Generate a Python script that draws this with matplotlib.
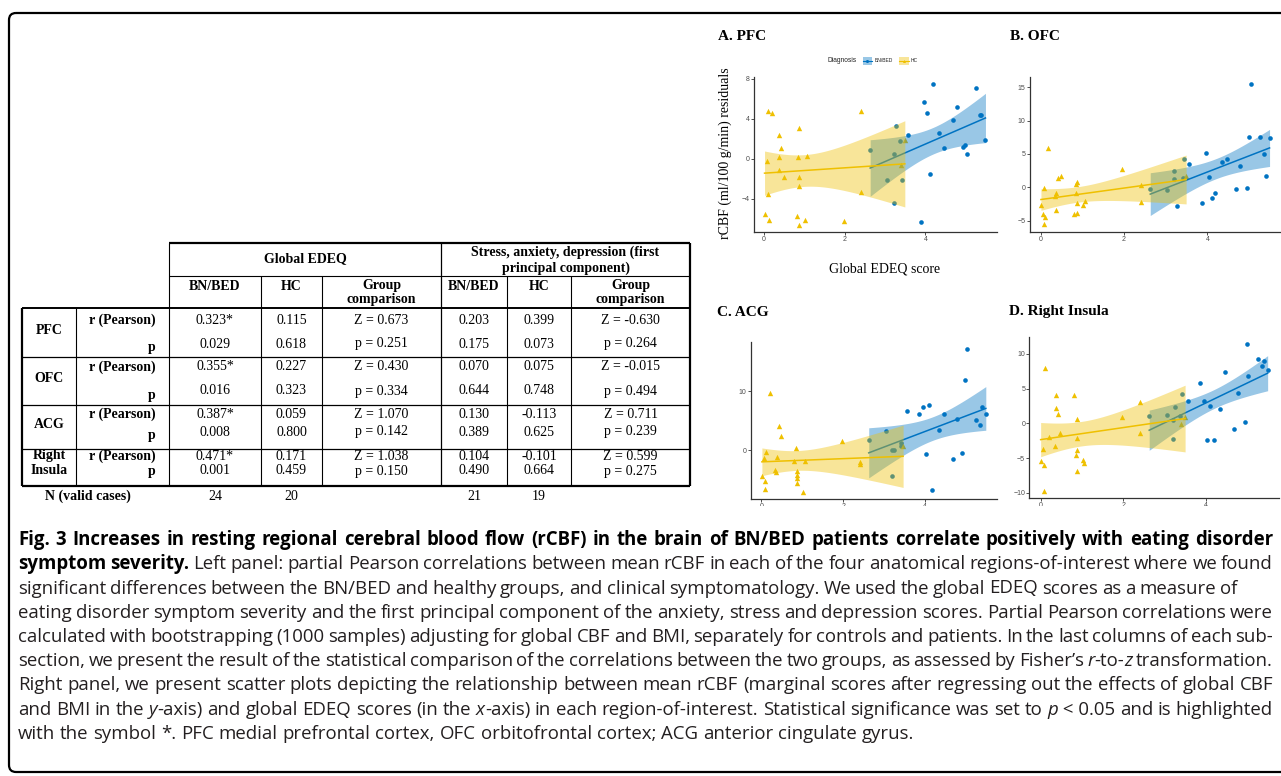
import numpy as np
import matplotlib
matplotlib.use("Agg")
import matplotlib.pyplot as plt
from matplotlib.patches import Rectangle, FancyBboxPatch
from matplotlib import font_manager

W, H = 1281, 776
BLUE = "#0073C2"
YELLOW = "#EFC000"

# ---- scatter data ----
A_bn_x = [4.18, 3.97, 4.03, 5.26, 4.78, 4.68, 5.35, 5.39, 5.49, 4.34, 4.46, 4.93, 4.99, 5.03, 4.11, 3.88, 3.56, 2.63, 3.26, 3.21, 3.37, 3.05, 3.43, 3.21]
A_bn_y = [7.48, 5.64, 4.53, 7.11, 5.2, 3.83, 4.4, 4.33, 1.91, 2.55, 1.07, 1.17, 1.38, 0.5, -1.54, -6.34, 2.38, 0.87, 3.32, 0.47, 1.78, -2.18, -2.18, -4.43]
A_hc_x = [0.09, 0.2, 0.37, 0.43, 0.36, 0.07, 0.37, 0.49, 0.09, 0.01, 0.11, 0.87, 0.85, 1.07, 0.87, 0.87, 0.81, 0.87, 1.02, 1.97, 2.41, 2.4, 3.49, 3.4]
A_hc_y = [4.73, 4.53, 2.35, 1.07, 0.2, -0.27, -1.1, -1.88, -3.49, -5.54, -6.1, 3.12, 0.17, 0.23, -1.81, -2.72, -5.7, -6.64, -6.14, -6.24, 4.8, -3.29, 1.85, -0.67]

B_bn_x = [5.04, 5.0, 5.27, 5.49, 3.97, 3.56, 4.34, 4.47, 5.36, 4.79, 4.05, 5.41, 4.19, 4.12, 3.88, 4.69, 4.94, 3.26, 2.63, 3.04, 3.2, 3.2, 3.41, 3.43]
B_bn_y = [15.5, 7.62, 7.52, 7.37, 5.13, 3.44, 3.74, 4.28, 4.93, 3.14, 1.54, 1.64, -0.85, -1.59, -2.29, -0.25, -0.15, -2.74, -0.25, -0.35, 2.44, 1.2, 1.35, 4.24]
B_hc_x = [0.19, 0.43, 0.48, 0.09, 0.36, 0.35, 0.01, 0.36, 0.05, 0.1, 0.08, 0.84, 0.87, 0.86, 0.87, 1.06, 1.02, 0.8, 0.87, 1.96, 2.4, 2.41, 3.49]
B_hc_y = [5.83, 1.4, 1.64, -0.1, -0.9, -1.3, -2.59, -3.39, -4.04, -4.53, -5.58, 0.5, 0.85, -0.8, -2.34, -2.04, -2.69, -3.94, -3.79, 2.79, 0.3, -2.19, 1.74]

C_bn_x = [5.02, 4.98, 3.55, 3.86, 3.95, 4.1, 4.45, 4.78, 4.33, 5.25, 5.38, 5.34, 5.48, 4.03, 4.67, 4.91, 4.17, 2.62, 3.04, 3.2, 3.24, 3.19, 3.4, 3.41]
C_bn_y = [17.23, 11.86, 6.67, 6.21, 7.29, 7.68, 6.21, 5.37, 3.5, 5.14, 7.34, 4.35, 6.1, -0.68, -1.41, -0.4, -6.67, 1.69, 3.22, 0.06, 0.06, -4.41, 1.3, 0.73]
C_hc_x = [0.2, 0.42, 0.48, 0.11, 0.05, 0.01, 0.09, 0.08, 0.37, 0.34, 0.35, 0.85, 0.8, 0.86, 0.86, 0.87, 0.86, 1.06, 1.02, 1.96, 2.4, 2.4, 3.46]
C_hc_y = [9.72, 4.18, 2.49, -0.34, -1.24, -4.29, -5.25, -6.61, -1.07, -3.33, -3.67, 0.4, -1.86, -3.45, -4.24, -4.75, -5.48, -1.86, -7.06, 1.53, -1.98, -2.32, 0.73]

D_bn_x = [4.99, 5.27, 5.36, 5.41, 5.5, 4.47, 5.03, 3.87, 4.78, 3.56, 3.96, 4.11, 4.34, 4.94, 4.69, 4.04, 4.19, 2.63, 3.05, 3.26, 3.21, 3.38, 3.43, 3.21]
D_bn_y = [11.43, 9.29, 8.24, 9.0, 7.71, 7.43, 6.81, 5.86, 4.43, 3.24, 3.24, 2.48, 2.05, 0.19, -0.86, -2.38, -2.43, 1.05, 1.19, 2.43, 0.43, 1.14, 4.29, -2.19]
D_hc_x = [0.1, 0.36, 0.81, 0.36, 0.42, 0.87, 0.2, 0.48, 0.34, 0.87, 0.05, 0.0, 0.09, 0.87, 0.85, 1.02, 1.06, 0.87, 0.08, 1.96, 2.4, 2.4, 3.5, 3.41]
D_hc_y = [8.0, 4.1, 4.1, 2.24, 1.43, 0.62, -1.9, -1.33, -3.24, -2.1, -3.62, -5.33, -6.0, -3.86, -4.57, -5.24, -5.67, -6.9, -9.67, 0.86, 3.14, -1.38, 0.9, -0.14]

A_yticks = [-4, 0, 4, 8]
B_yticks = [-5, 0, 5, 10, 15]
C_yticks = [0, 10]
D_yticks = [-10, -5, 0, 5, 10]
X_TICKS = [0, 2, 4]
PANEL_TITLES = ["A. PFC", "B. OFC", "C. ACG", "D. Right Insula"]
GROUPS = ["BN/BED", "HC"]

# ---- table data ----
REGIONS = ["PFC", "OFC", "ACG", "Right\nInsula"]
EDEQ_BN_R = ["0.323*", "0.355*", "0.387*", "0.471*"]
EDEQ_BN_P = ["0.029", "0.016", "0.008", "0.001"]
EDEQ_HC_R = ["0.115", "0.227", "0.059", "0.171"]
EDEQ_HC_P = ["0.618", "0.323", "0.800", "0.459"]
EDEQ_Z = ["Z = 0.673", "Z = 0.430", "Z = 1.070", "Z = 1.038"]
EDEQ_ZP = ["p = 0.251", "p = 0.334", "p = 0.142", "p = 0.150"]
SAD_BN_R = ["0.203", "0.070", "0.130", "0.104"]
SAD_BN_P = ["0.175", "0.644", "0.389", "0.490"]
SAD_HC_R = ["0.399", "0.075", "-0.113", "-0.101"]
SAD_HC_P = ["0.073", "0.748", "0.625", "0.664"]
SAD_Z = ["Z = -0.630", "Z = -0.015", "Z = 0.711", "Z = 0.599"]
SAD_ZP = ["p = 0.264", "p = 0.494", "p = 0.239", "p = 0.275"]
N_VALID = ["24", "20", "21", "19"]

# caption: (number of leading bold words, text); _x_ = italic, ~ = fixed space
CAPTION = [
    (99, "Fig. 3 Increases in resting regional cerebral blood flow (rCBF) in the brain of BN/BED patients correlate positively with eating disorder"),
    (2, "symptom severity. Left panel: partial Pearson correlations between mean rCBF in each of the four anatomical regions-of-interest where we found"),
    (0, "significant differences between the BN/BED and healthy groups, and clinical symptomatology. We used the global EDEQ scores as a measure of"),
    (0, "eating disorder symptom severity and the first principal component of the anxiety, stress and depression scores. Partial Pearson correlations were"),
    (0, "calculated with bootstrapping (1000 samples) adjusting for global CBF and BMI, separately for controls and patients. In the last columns of each sub-"),
    (0, "section, we present the result of the statistical comparison of the correlations between the two groups, as assessed by Fisher\u2019s _r_-to-_z_ transformation."),
    (0, "Right panel, we present scatter plots depicting the relationship between mean rCBF (marginal scores after regressing out the effects of global CBF"),
    (0, "and BMI in the _y_-axis) and global EDEQ scores (in the _x_-axis) in each region-of-interest. Statistical significance was set to _p_~<~0.05 and is highlighted"),
    (0, "with the symbol *. PFC medial prefrontal cortex, OFC orbitofrontal cortex; ACG anterior cingulate gyrus."),
]
CAP_RIGHT = [1273, 1273, 1237, 1273, 1273, 1273, 1273, 1273, None]


def pick_font(names):
    for n in names:
        try:
            font_manager.findfont(font_manager.FontProperties(family=n), fallback_to_default=False)
            return n
        except Exception:
            pass
    return "DejaVu Sans"


SANS = pick_font(["Liberation Sans", "DejaVu Sans"])
SERIF = pick_font(["Liberation Serif", "DejaVu Serif"])
CAPFONT = pick_font(["Liberation Sans Narrow", "Open Sans", "DejaVu Sans"])
plt.rcParams["font.family"] = [SANS, "DejaVu Sans"]

T975 = {19: 2.093, 20: 2.086, 21: 2.080, 22: 2.074, 23: 2.069, 24: 2.064, 25: 2.060}


def lm_band(x, y, n=80):
    # linear fit with 95% confidence band, like geom_smooth(method="lm")
    x = np.asarray(x, float)
    y = np.asarray(y, float)
    b1, b0 = np.polyfit(x, y, 1)
    xs = np.linspace(x.min(), x.max(), n)
    fit = b0 + b1 * xs
    df = len(x) - 2
    s = np.sqrt(np.sum((y - (b0 + b1 * x)) ** 2) / df)
    se = s * np.sqrt(1 / len(x) + (xs - x.mean()) ** 2 / np.sum((x - x.mean()) ** 2))
    t = T975.get(df, 2.07)
    return xs, fit, fit - t * se, fit + t * se


fig = plt.figure(figsize=(W / 100, H / 100), dpi=100)


def px_axes(l, t, r, b):
    return fig.add_axes([l / W, 1 - b / H, (r - l) / W, (b - t) / H])


def panel(ax, bx, by, hx, hy, yticks):
    ax.scatter(bx, by, s=11, color=BLUE, linewidths=0, zorder=2)
    ax.scatter(hx, hy, s=15, marker="^", color=YELLOW, linewidths=0, zorder=2)
    xs_all = list(bx) + list(hx)
    ys_all = list(by) + list(hy)
    for x, y, c, z in [(bx, by, BLUE, 3), (hx, hy, YELLOW, 4)]:
        xs, fit, lo, hi = lm_band(x, y)
        ax.fill_between(xs, lo, hi, color=c, alpha=0.4, lw=0, zorder=z)
        ax.plot(xs, fit, color=c, lw=1.1, zorder=z)
        ys_all += list(lo) + list(hi)
    x0, x1 = min(xs_all), max(xs_all)
    y0, y1 = min(ys_all), max(ys_all)
    ax.set_xlim(x0 - 0.05 * (x1 - x0), x1 + 0.05 * (x1 - x0))
    ax.set_ylim(y0 - 0.05 * (y1 - y0), y1 + 0.05 * (y1 - y0))
    ax.set_xticks(X_TICKS)
    ax.set_yticks(yticks)
    for sp in ["top", "right"]:
        ax.spines[sp].set_visible(False)
    for sp in ["left", "bottom"]:
        ax.spines[sp].set_color("#333333")
        ax.spines[sp].set_linewidth(0.9)
    ax.tick_params(length=2, width=0.6, color="#333333", labelsize=5,
                   labelcolor="#4D4D4D", pad=1)
    ax.patch.set_alpha(0)


axA = px_axes(753.5, 77, 996.5, 232)
panel(axA, A_bn_x, A_bn_y, A_hc_x, A_hc_y, A_yticks)
axB = px_axes(1029.5, 77, 1281, 231.5)
panel(axB, B_bn_x, B_bn_y, B_hc_x, B_hc_y, B_yticks)
axC = px_axes(750.7, 341.7, 997, 499)
panel(axC, C_bn_x, C_bn_y, C_hc_x, C_hc_y, C_yticks)
axD = px_axes(1029.3, 336.7, 1279, 498)
panel(axD, D_bn_x, D_bn_y, D_hc_x, D_hc_y, D_yticks)

# overlay in pixel coordinates
ov = fig.add_axes([0, 0, 1, 1])
ov.set_xlim(0, W)
ov.set_ylim(H, 0)
ov.axis("off")
ov.set_zorder(5)

# white band cutting the lower panels
ov.add_patch(Rectangle((700, 506), 590, 18, fc="white", ec="none", zorder=1))

# outer frame
ov.add_patch(FancyBboxPatch((9, 13), 1300, 759, boxstyle="round,pad=0,rounding_size=7",
                            lw=1.6, ec="black", fc="none", zorder=2))

# panel titles and labels
for (tx, ty), title in zip([(718, 36), (1010, 36), (717, 312), (1009, 312)], PANEL_TITLES):
    ov.text(tx, ty, title, family=SERIF, weight="bold", fontsize=11, ha="left", va="center")
ov.text(725, 153, "rCBF (ml/100 g/min) residuals", family=SERIF, fontsize=10,
        rotation=90, ha="center", va="center")
ov.text(885, 269, "Global EDEQ score", family=SERIF, fontsize=10, ha="center", va="center")

# legend of panel A
ov.text(828, 61, "Diagnosis", fontsize=4.8, ha="left", va="center", color="#222222")
for kx, lab, c, mk in [(862.5, GROUPS[0], BLUE, "o"), (899, GROUPS[1], YELLOW, "^")]:
    ov.add_patch(Rectangle((kx, 56.5), 9.5, 8.5, fc=c, alpha=0.4, ec="none"))
    ov.plot([kx, kx + 9.5], [60.7, 60.7], color=c, lw=0.8)
    ov.plot([kx + 4.75], [60.7], marker=mk, ms=2.2, color=c, mec="none")
    ov.text(kx + 12, 61, lab, fontsize=3.6, ha="left", va="center", color="#222222")

# ---- table ----
COLS = [22, 76, 169, 261, 322, 441, 507, 571, 690]
ROW_LINES = [308, 357, 405, 449, 486]
R_Y = [320, 367, 414, 456]
P_Y = [344, 391, 432, 471]
LBL_Y = [330, 378, 424, 0]
TF = dict(family=SERIF, fontsize=10, ha="center", va="center", color="black")
TB = dict(TF, weight="bold")


def hline(y, x0, x1, lw):
    ov.plot([x0, x1], [y, y], color="black", lw=lw, solid_capstyle="butt")


def vline(x, y0, y1, lw):
    ov.plot([x, x], [y0, y1], color="black", lw=lw, solid_capstyle="butt")


hline(243, COLS[2], COLS[-1], 1.6)
hline(276, COLS[2], COLS[-1], 0.8)
hline(ROW_LINES[0], COLS[0], COLS[-1], 1.4)
for y in ROW_LINES[1:-1]:
    hline(y, COLS[0], COLS[-1], 0.9)
hline(ROW_LINES[-1], COLS[0], COLS[-1], 1.6)
vline(COLS[0], ROW_LINES[0], ROW_LINES[-1], 1.6)
vline(COLS[1], ROW_LINES[0], ROW_LINES[-1], 0.8)
vline(COLS[2], 243, ROW_LINES[-1], 0.8)
for x in [COLS[3], COLS[4], COLS[6], COLS[7]]:
    vline(x, 276, ROW_LINES[-1], 0.8)
vline(COLS[5], 243, ROW_LINES[-1], 0.9)
vline(COLS[8], 243, ROW_LINES[-1], 1.6)

ov.text((COLS[2] + COLS[5]) / 2, 259, "Global EDEQ", **TB)
ov.text((COLS[5] + COLS[8]) / 2, 252, "Stress, anxiety, depression (first", **TB)
ov.text((COLS[5] + COLS[8]) / 2, 268, "principal component)", **TB)
centers = [(COLS[i] + COLS[i + 1]) / 2 for i in range(2, 8)]
for i, c in enumerate(centers):
    if i in (2, 5):
        ov.text(c, 286, "Group", **TB)
        ov.text(c, 300, "comparison", **TB)
    else:
        ov.text(c, 286, ["BN/BED", "HC"][i % 3], **TB)

cols_r = [EDEQ_BN_R, EDEQ_HC_R, EDEQ_Z, SAD_BN_R, SAD_HC_R, SAD_Z]
cols_p = [EDEQ_BN_P, EDEQ_HC_P, EDEQ_ZP, SAD_BN_P, SAD_HC_P, SAD_ZP]
for k in range(4):
    for c, vr, vp in zip(centers, cols_r, cols_p):
        ov.text(c, R_Y[k], vr[k], **TF)
        ov.text(c, P_Y[k], vp[k], **TF)
    ov.text((COLS[1] + COLS[2]) / 2, R_Y[k], "r (Pearson)", **TB)
    ov.text(152, P_Y[k] + (4 if k < 3 else 0), "p", **TB)
    if "\n" in REGIONS[k]:
        a, b = REGIONS[k].split("\n")
        ov.text((COLS[0] + COLS[1]) / 2, R_Y[k], a, **TB)
        ov.text((COLS[0] + COLS[1]) / 2, P_Y[k], b, **TB)
    else:
        ov.text((COLS[0] + COLS[1]) / 2, LBL_Y[k], REGIONS[k], **TB)
ov.text(88, 496, "N (valid cases)", **TB)
for c, v in zip([centers[0], centers[1], centers[3], centers[4]], N_VALID):
    ov.text(c, 496, v, **TF)

# ---- caption, justified word by word ----
renderer = fig.canvas.get_renderer()
CAP_LEFT = 18
CAP_BASE = 545
CAP_STEP = 24.25


def make_word(word, size, bold):
    parts = word.split("_")
    objs = []
    cx = 0.0
    for i, seg in enumerate(parts):
        if not seg:
            continue
        t = ov.text(0, 0, seg.replace("~", " "), family=CAPFONT, fontsize=size,
                    weight="bold" if bold else "normal",
                    style="italic" if i % 2 else "normal",
                    color="black" if bold else "#231F20", ha="left", va="baseline")
        objs.append((t, cx))
        cx += t.get_window_extent(renderer).width
    return objs, cx


def space_width(size):
    a = ov.text(0, 0, "a a", family=CAPFONT, fontsize=size)
    b = ov.text(0, 0, "aa", family=CAPFONT, fontsize=size)
    w = a.get_window_extent(renderer).width - b.get_window_extent(renderer).width
    a.remove()
    b.remove()
    return w


# size so that the first (bold) line fits its width
test = []
tot = 0
for w in CAPTION[0][1].split(" "):
    o, wd = make_word(w, 10, True)
    test += o
    tot += wd
tot += space_width(10) * (len(CAPTION[0][1].split(" ")) - 1)
for t, _ in test:
    t.remove()
CAP_SIZE = 10 * (CAP_RIGHT[0] - CAP_LEFT) / tot * 0.985
SP = space_width(CAP_SIZE)

for li, (nbold, text) in enumerate(CAPTION):
    words = text.split(" ")
    built = [make_word(w, CAP_SIZE, i < nbold) for i, w in enumerate(words)]
    total = sum(b[1] for b in built)
    if CAP_RIGHT[li] is not None and len(words) > 1:
        gap = (CAP_RIGHT[li] - CAP_LEFT - total) / (len(words) - 1)
    else:
        gap = SP
    y = CAP_BASE + li * CAP_STEP
    x = CAP_LEFT
    for objs, wd in built:
        for t, off in objs:
            t.set_position((x + off, y))
        x += wd + gap

fig.savefig("out.png", dpi=100)
